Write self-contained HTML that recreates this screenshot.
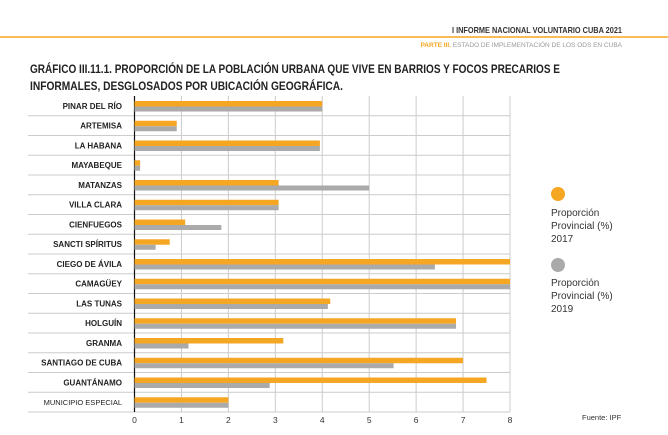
<!DOCTYPE html>
<html><head><meta charset="utf-8"><style>
html,body{margin:0;padding:0;background:#fff;width:668px;height:435px;overflow:hidden}
svg{display:block;font-family:"Liberation Sans",sans-serif}
</style></head><body>
<svg width="668" height="435" viewBox="0 0 668 435" id="chart">
<line x1="0" y1="37" x2="668" y2="37" stroke="#f5a623" stroke-width="1.5"/>
<text x="622" y="33" text-anchor="end" font-size="8.5" font-weight="bold" fill="#333" textLength="170" lengthAdjust="spacingAndGlyphs">I INFORME NACIONAL VOLUNTARIO CUBA 2021</text>
<text x="622" y="47" text-anchor="end" font-size="6.5" fill="#999"><tspan fill="#f5a623" font-weight="bold">PARTE III.</tspan> ESTADO DE IMPLEMENTACIÓN DE LOS ODS EN CUBA</text>
<text font-size="11.5" font-weight="bold" fill="#222"><tspan x="30" y="73" textLength="530" lengthAdjust="spacingAndGlyphs">GRÁFICO III.11.1. PROPORCIÓN DE LA POBLACIÓN URBANA QUE VIVE EN BARRIOS Y FOCOS PRECARIOS E</tspan><tspan x="30" y="90" textLength="313" lengthAdjust="spacingAndGlyphs">INFORMALES, DESGLOSADOS POR UBICACIÓN GEOGRÁFICA.</tspan></text>
<g id="grid"></g><g id="bars"></g><g id="labels"></g>
<circle cx="558" cy="194" r="7" fill="#f5a623"/>
<text font-size="10" fill="#333"><tspan x="551" y="216">Proporción</tspan><tspan x="551" y="229">Provincial (%)</tspan><tspan x="551" y="242">2017</tspan></text>
<circle cx="558" cy="265" r="7" fill="#aaa"/>
<text font-size="10" fill="#333"><tspan x="551" y="286">Proporción</tspan><tspan x="551" y="299">Provincial (%)</tspan><tspan x="551" y="312">2019</tspan></text>
<text x="582" y="420" font-size="7.5" fill="#333">Fuente: IPF</text>
</svg>
<script>
const categories=["PINAR DEL RÍO","ARTEMISA","LA HABANA","MAYABEQUE","MATANZAS","VILLA CLARA","CIENFUEGOS","SANCTI SPÍRITUS","CIEGO DE ÁVILA","CAMAGÜEY","LAS TUNAS","HOLGUÍN","GRANMA","SANTIAGO DE CUBA","GUANTÁNAMO","MUNICIPIO ESPECIAL"];
const values2017=[4.0,0.9,3.95,0.12,3.07,3.07,1.08,0.75,8,8,4.17,6.85,3.17,7.0,7.5,2.0];
const values2019=[4.0,0.9,3.95,0.12,5.0,3.07,1.85,0.45,6.4,8,4.12,6.85,1.15,5.52,2.88,2.0];
const xTicks=[0,1,2,3,4,5,6,7,8];
const NS="http://www.w3.org/2000/svg";
const plotX0=134.5,plotX1=510,plotTop=96,plotBot=412,xMax=8;
const n=categories.length,rowH=(plotBot-plotTop)/n;
const xs=v=>plotX0+v/xMax*(plotX1-plotX0);
const rowY=i=>plotTop+i*rowH;
function mk(t,a,p){const e=document.createElementNS(NS,t);for(const k in a)e.setAttribute(k,a[k]);document.getElementById(p).appendChild(e);return e;}
for(let i=1;i<=n;i++){
 const l=mk("line",{x1:28,x2:plotX1,y1:rowY(i),y2:rowY(i),stroke:"#ccc","stroke-width":1},"grid");
 
 
}
xTicks.forEach(t=>{
 const l=mk("line",{x1:xs(t),x2:xs(t),y1:plotTop,y2:plotBot,stroke:t===0?"#111":"#ccc","stroke-width":t===0?1.2:1},"grid");
 
 
 const tx=mk("text",{x:xs(t),y:plotBot+11,"text-anchor":"middle","font-size":"8.5",fill:"#333"},"grid");
 tx.textContent=t;
 
 
});
categories.forEach((c,i)=>{
 const y=rowY(i);
 const b1=mk("rect",{x:plotX0,y:y+5,width:xs(values2017[i])-plotX0,height:5.5,fill:"#f5a623"},"bars");
 
 
 const b2=mk("rect",{x:plotX0,y:y+10.5,width:xs(values2019[i])-plotX0,height:5,fill:"#aaa"},"bars");
 
 
 const last=i===n-1;
 const t=mk("text",{x:122,y:y+rowH/2+3,"text-anchor":"end","font-size":last?"7.5":"8","font-weight":last?"normal":"bold",fill:"#222"},"labels");
 t.textContent=c;
 
 
});
</script>
</body></html>
